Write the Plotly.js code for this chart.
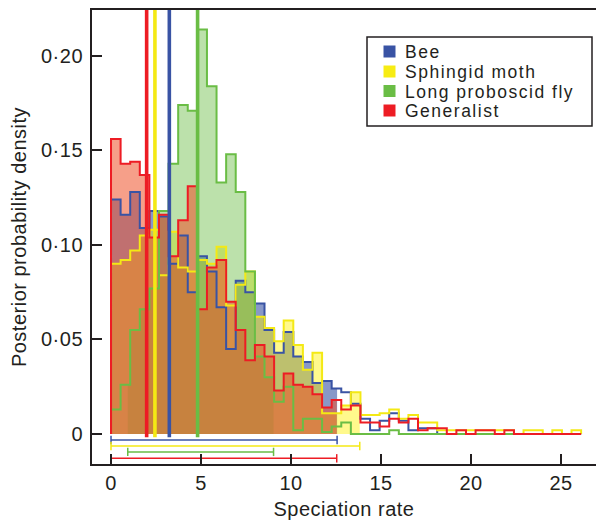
<!DOCTYPE html>
<html><head><meta charset="utf-8">
<script src="https://cdn.plot.ly/plotly-3.0.1.min.js"></script>
<style>
html,body{margin:0;padding:0;background:#fff;}
#chart{width:596px;height:521px;}
.main-svg text{letter-spacing:0.5px;}
.main-svg text.annotation-text{letter-spacing:1.5px;}
</style>
</head><body><div id="chart"></div>
<script>
// ---- data ----
const seriesNames = ['Bee', 'Sphingid moth', 'Long proboscid fly', 'Generalist'];
const binWidth = 0.533; // histogram bin width (speciation rate units), bins start at 0
const bee = [0.124,0.116,0.128,0.109,0.118,0.115,0.090,0.105,0.075,0.094,
             0.086,0.067,0.045,0.081,0.075,0.069,0.055,0.043,0.054,0.041,
             0.038,0.027,0.028,0.024,0.022,0.016,0.008,0.002,0.007,0.011,
             0.007,0.002,0.003,0.003,0,0,0,0,0,0,
             0,0,0,0,0,0,0,0,0];
const sphingidMoth = [0.090,0.092,0.097,0.105,0.108,0.084,0.107,0.088,0.086,0.092,
             0.090,0.099,0.068,0.079,0.086,0.062,0.056,0.049,0.060,0.047,
             0.034,0.043,0.011,0.011,0.015,0.022,0.010,0.010,0.011,0.013,
             0.008,0.010,0.006,0.006,0.002,0.002,0.002,0.002,0.002,0.002,
             0.002,0.002,0,0.002,0.002,0,0.002,0,0.002];
const longProboscidFly = [0.013,0.026,0.055,0.066,0.077,0.118,0.143,0.174,0.171,0.214,
             0.184,0.133,0.148,0.128,0.086,0.041,0.030,0.017,0.025,0.002,
             0.008,0.008,0.001,0.004,0.006,0,0,0,0,0.002,
             0,0,0,0,0,0,0,0,0,0,
             0,0,0,0,0,0,0,0,0];
const generalist = [0.156,0.143,0.144,0.137,0.104,0.116,0.094,0.113,0.131,0.066,
             0.088,0.092,0.070,0.055,0.039,0.047,0.041,0.023,0.032,0.026,
             0.025,0.021,0.014,0.018,0.013,0.015,0.006,0.006,0.004,0.008,
             0.006,0.008,0.002,0.003,0.003,0,0.002,0,0.002,0.002,
             0,0.002,0,0,0,0,0,0,0];
const medians = [3.24, 2.44, 4.81, 1.98];      // central estimates (vertical lines)
const hpdLow  = [0, 0, 0.93, 0];               // 95% interval lower bounds
const hpdHigh = [12.56, 13.82, 9.03, 12.54];   // 95% interval upper bounds
const xTickVals = [0, 5, 10, 15, 20, 25];
const xTickText = ['0', '5', '10', '15', '20', '25'];
const yTickVals = [0, 0.05, 0.10, 0.15, 0.20];
const yTickText = ['0', '0·05', '0·10', '0·15', '0·20'];

// ---- styles ----
const lineColors = ['#3953a4', '#f4e914', '#6abd45', '#ed1c24'];
const swatchColors = ['#3953a4', '#f7ec13', '#6abd45', '#ed1c24'];
const fillColors = ['rgba(57,83,164,0.6)', 'rgba(255,242,0,0.45)', 'rgba(106,189,69,0.45)', 'rgba(238,80,40,0.55)'];
const barLevels = [-0.0032, -0.0064, -0.0095, -0.0129];
const FONT = 'Liberation Sans, Arial, Helvetica, sans-serif';
const TXT = '#231f20';

const allSeries = [bee, sphingidMoth, longProboscidFly, generalist];

function outline(vals) {
  const x = [0], y = [0];
  vals.forEach((v, i) => { x.push(i * binWidth); y.push(v); });
  x.push(vals.length * binWidth); y.push(0);
  return {x, y};
}
function fillPts(vals, lo, hi) {
  const x = [], y = [];
  const k0 = Math.floor(lo / binWidth);
  x.push(lo); y.push(vals[k0]);
  for (let k = k0 + 1; k * binWidth < hi; k++) { x.push(k * binWidth); y.push(vals[k]); }
  const kh = Math.min(Math.floor(hi / binWidth), vals.length - 1);
  x.push(hi); y.push(vals[kh]);
  return {x, y};
}

const traces = [];
allSeries.forEach((vals, i) => {
  const f = fillPts(vals, hpdLow[i], hpdHigh[i]);
  traces.push({x: f.x, y: f.y, type: 'scatter', mode: 'lines', line: {shape: 'hv', width: 0},
    fill: 'tozeroy', fillcolor: fillColors[i], showlegend: false, hoverinfo: 'skip'});
});
allSeries.forEach((vals, i) => {
  const o = outline(vals);
  traces.push({x: o.x, y: o.y, type: 'scatter', mode: 'lines', name: seriesNames[i],
    line: {shape: 'hv', width: 2, color: lineColors[i]}, showlegend: false});
});
allSeries.forEach((vals, i) => {
  traces.push({x: [hpdLow[i], hpdHigh[i]], y: [barLevels[i], barLevels[i]], type: 'scatter',
    mode: 'lines+markers', line: {width: 1.5, color: lineColors[i]},
    marker: {symbol: 'line-ns', size: 6, line: {width: 1.5, color: lineColors[i]}},
    showlegend: false, cliponaxis: false});
});
allSeries.forEach((vals, i) => {
  traces.push({x: [medians[i], medians[i]], y: [-0.0018, 0.3], type: 'scatter', mode: 'lines',
    line: {width: 3.6, color: lineColors[i]}, showlegend: false});
});

// legend drawn by hand (pixel -> paper)
const L = 92, T = 10, W = 504, H = 454;
const px = v => (v - L) / W;
const py = v => (T + H - v) / H;
const shapes = [{type: 'rect', xref: 'paper', yref: 'paper', x0: px(367), x1: px(592), y0: py(126), y1: py(37),
  line: {color: TXT, width: 1.5}, fillcolor: 'rgba(0,0,0,0)'}];
const annotations = [];
const rowY = [51.5, 71.5, 91, 110.5];
seriesNames.forEach((name, i) => {
  shapes.push({type: 'rect', xref: 'paper', yref: 'paper', x0: px(383.5), x1: px(395.5),
    y0: py(rowY[i] + 6), y1: py(rowY[i] - 6), line: {width: 0}, fillcolor: swatchColors[i]});
  annotations.push({xref: 'paper', yref: 'paper', x: px(404), y: py(rowY[i] + 0.5), xanchor: 'left', yanchor: 'middle',
    text: name, showarrow: false, borderpad: 0, align: 'left',
    font: {family: FONT, size: 17.5, color: TXT}});
});

const layout = {
  width: 596, height: 521,
  margin: {l: L, r: 0, t: T, b: 521 - T - H},
  paper_bgcolor: '#fff', plot_bgcolor: '#fff',
  font: {family: FONT, color: TXT, size: 20},
  showlegend: false,
  xaxis: {range: [-1.056, 26.944], showline: true, linewidth: 2, linecolor: TXT, mirror: true,
    ticks: 'inside', ticklen: 10, tickwidth: 2, tickcolor: TXT, tickvals: xTickVals, ticktext: xTickText,
    showgrid: false, zeroline: false, tickfont: {size: 20, family: FONT, color: TXT}, ticklabelstandoff: 0,
    title: {text: 'Speciation rate', font: {size: 20, family: FONT, color: TXT}, standoff: 9}, automargin: false},
  yaxis: {range: [-0.0159, 0.2243], showline: true, linewidth: 2, linecolor: TXT,
    ticks: 'inside', ticklen: 10, tickwidth: 2, tickcolor: TXT, tickvals: yTickVals, ticktext: yTickText,
    showgrid: false, zeroline: false, tickfont: {size: 20, family: FONT, color: TXT}, ticklabelstandoff: 3,
    title: {text: 'Posterior probability density', font: {size: 20, family: FONT, color: TXT}, standoff: 11}, automargin: false},
  shapes, annotations
};
Plotly.newPlot('chart', traces, layout, {displayModeBar: false, staticPlot: true});
</script>
</body></html>
